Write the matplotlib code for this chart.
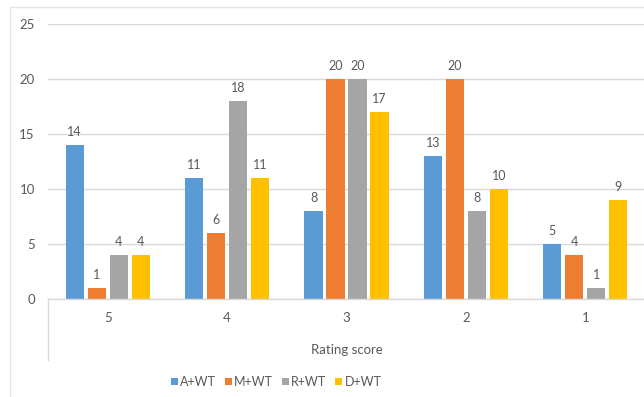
import matplotlib
matplotlib.use("Agg")
import matplotlib.pyplot as plt
from matplotlib.lines import Line2D
from matplotlib.patches import Patch
import numpy as np

categories = ["5", "4", "3", "2", "1"]
series_names = ["A+WT", "M+WT", "R+WT", "D+WT"]
a_wt = [14, 11, 8, 13, 5]
m_wt = [1, 6, 20, 20, 4]
r_wt = [4, 18, 20, 8, 1]
d_wt = [4, 11, 17, 10, 9]
colors = ["#5B9BD5", "#ED7D31", "#A5A5A5", "#FFC000"]
y_ticks = [0, 5, 10, 15, 20, 25]

plt.rcParams["font.family"] = ["Lato", "DejaVu Sans"]
text_color = "#595959"
grid_color = "#D9D9D9"

W, H = 644, 397
fig = plt.figure(figsize=(W / 100, H / 100), dpi=100)
fig.patch.set_facecolor("white")

# plot area in pixel terms
left, right, top, bottom = 48, 645, 24, 299
ax = fig.add_axes([left / W, 1 - bottom / H, (right - left) / W, (bottom - top) / H])
ax.set_facecolor("none")

x = np.arange(len(categories))
slot = 0.184
bar_w = 0.152
all_series = [a_wt, m_wt, r_wt, d_wt]
for i, (vals, name, col) in enumerate(zip(all_series, series_names, colors)):
    pos = x + (i - 1.5) * slot
    bars = ax.bar(pos, vals, width=bar_w, color=col, label=name, zorder=3)
    for b, v in zip(bars, vals):
        ax.annotate(str(v), (b.get_x() + b.get_width() / 2, v),
                    xytext=(0, 5), textcoords="offset points",
                    ha="center", va="bottom", fontsize=9, color=text_color)

ax.set_xlim(-0.5, len(categories) - 0.5)
ax.set_ylim(0, 25)
ax.set_yticks(y_ticks)
ax.set_xticks(x)
ax.set_xticklabels(categories)
ax.tick_params(axis="both", length=0, labelsize=9.5, colors=text_color)
ax.tick_params(axis="y", pad=9.5)
ax.tick_params(axis="x", pad=9)
ax.grid(axis="y", color=grid_color, linewidth=1, zorder=0)
for s in ["left", "right", "top"]:
    ax.spines[s].set_visible(False)
ax.spines["bottom"].set_color(grid_color)
ax.spines["bottom"].set_linewidth(1)
ax.spines["bottom"].set_zorder(4)

ax.set_xlabel("Rating score", fontsize=9.5, color=text_color, labelpad=15)

# category group line below the axis
fig.add_artist(Line2D([left / W, left / W], [1 - bottom / H, 1 - 360 / H],
                      color=grid_color, linewidth=1))

# chart border
fig.add_artist(Line2D([9.5 / W, 9.5 / W], [0, 1 - 7 / H], color="#E3E3E3", linewidth=1))
fig.add_artist(Line2D([9.5 / W, 1], [1 - 7 / H, 1 - 7 / H], color="#E3E3E3", linewidth=1))

handles = [Patch(facecolor=c, edgecolor="none") for c in colors]
fig.legend(handles, series_names, loc="center", bbox_to_anchor=(276 / W, 1 - 382 / H),
           ncol=4, frameon=False, fontsize=9, labelcolor=text_color,
           handlelength=0.55, handleheight=0.55, handletextpad=0.2, columnspacing=0.7)

fig.savefig("out.png", dpi=100)
